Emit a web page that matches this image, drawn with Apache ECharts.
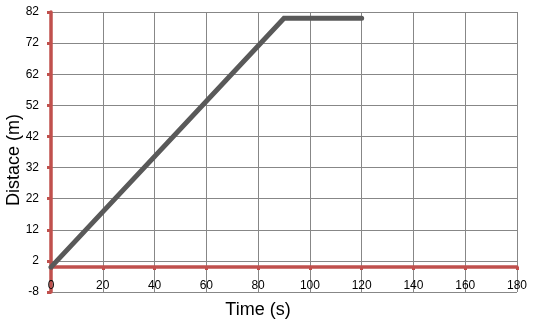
<!DOCTYPE html>
<html><head><meta charset="utf-8">
<script src="https://cdn.jsdelivr.net/npm/echarts@6/dist/echarts.min.js"></script>
<style>html,body{margin:0;padding:0;background:#fff}#c{width:534px;height:323px}</style>
</head><body><div id="c"></div>
<script>
const timeValues = [0, 90, 120];
const distanceValues = [0, 80, 80];
const xTicks = {min: 0, max: 180, interval: 20};
const yTicks = {min: -8, max: 82, interval: 10};

const chart = echarts.init(document.getElementById('c'));
const red = '#C0504D';
chart.setOption({
  animation: false,
  grid: {left: 51, right: 17, top: 12, bottom: 31, containLabel: false, outerBoundsMode: 'none'},
  xAxis: {
    type: 'value', min: xTicks.min, max: xTicks.max, interval: xTicks.interval,
    name: 'Time (s)', nameLocation: 'middle', nameGap: 9, nameMoveOverlap: false,
    nameTextStyle: {fontFamily: 'Liberation Sans', fontSize: 18, color: '#000', verticalAlign: 'top', padding: [0, 52, 0, 0]},
    axisLine: {onZero: true, lineStyle: {color: red, width: 3.5}},
    axisTick: {show: true, length: 3, lineStyle: {color: red, width: 3}},
    axisLabel: {margin: -12, fontFamily: 'Liberation Sans', fontSize: 12, color: '#000'},
    splitLine: {show: true, lineStyle: {color: '#878787', width: 1}}
  },
  yAxis: {
    type: 'value', min: yTicks.min, max: yTicks.max, interval: yTicks.interval,
    name: 'Distace (m)', nameLocation: 'middle', nameGap: 28, nameMoveOverlap: false,
    nameTextStyle: {fontFamily: 'Liberation Sans', fontSize: 18, color: '#000', padding: [0, 16, 0, 0]},
    axisLine: {show: true, onZero: true, lineStyle: {color: red, width: 3.5}},
    axisTick: {show: true, length: 4, lineStyle: {color: red, width: 3}},
    axisLabel: {margin: 12, fontFamily: 'Liberation Sans', fontSize: 12, color: '#000'},
    splitLine: {show: true, lineStyle: {color: '#878787', width: 1}}
  },
  series: [{
    type: 'line',
    data: timeValues.map((t, i) => [t, distanceValues[i]]),
    showSymbol: false,
    lineStyle: {color: '#595959', width: 5, cap: 'round', join: 'miter'},
    z: 1
  }]
});
</script></body></html>
